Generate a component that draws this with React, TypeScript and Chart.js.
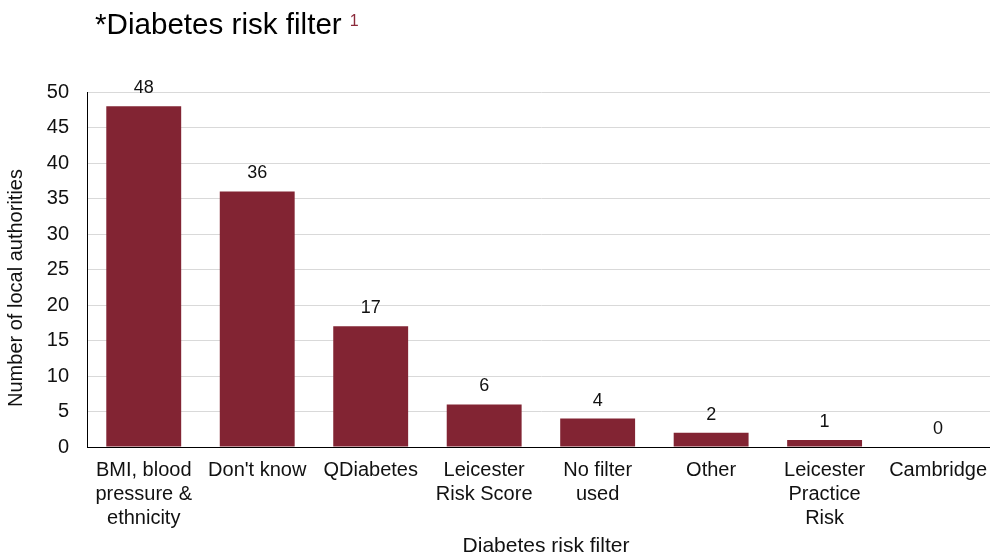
import React, { useEffect, useRef } from "react";
import { Chart, registerables } from "chart.js";

Chart.register(...registerables);

const categories: (string | string[])[] = [
  ["BMI, blood", "pressure &", "ethnicity"],
  "Don't know",
  "QDiabetes",
  ["Leicester", "Risk Score"],
  ["No filter", "used"],
  "Other",
  ["Leicester", "Practice", "Risk"],
  "Cambridge",
];
const values: number[] = [48, 36, 17, 6, 4, 2, 1, 0];
const yTicks: number[] = [0, 5, 10, 15, 20, 25, 30, 35, 40, 45, 50];

const titleText = "*Diabetes risk filter";
const titleSup = "1";
const xTitle = "Diabetes risk filter";
const yTitle = "Number of local authorities";

const BAR = "#822433";
const FONT = "'Liberation Sans', Arial, sans-serif";

const overlay = {
  id: "overlay",
  afterDraw(chart: any) {
    const ctx = chart.ctx;
    ctx.save();
    ctx.fillStyle = "#000";
    ctx.textBaseline = "alphabetic";
    ctx.textAlign = "left";
    ctx.font = `29.6px ${FONT}`;
    ctx.fillText(titleText, 95, 34);
    const w = ctx.measureText(titleText).width;
    ctx.fillStyle = "#8b2a3a";
    ctx.font = `16px ${FONT}`;
    ctx.fillText(titleSup, 95 + w + 8, 26);

    // axis titles
    ctx.fillStyle = "#111";
    ctx.textAlign = "center";
    ctx.textBaseline = "middle";
    ctx.font = `21px ${FONT}`;
    ctx.fillText(xTitle, 546, 546);
    ctx.save();
    ctx.translate(16, 288);
    ctx.rotate(-Math.PI / 2);
    ctx.font = `20px ${FONT}`;
    ctx.fillText(yTitle, 0, 0);
    ctx.restore();

    // data labels
    const meta = chart.getDatasetMeta(0);
    ctx.fillStyle = "#111";
    ctx.font = `18px ${FONT}`;
    meta.data.forEach((el: any, i: number) => {
      ctx.fillText(String(values[i]), el.x, el.y - 18);
    });
    ctx.restore();
  },
};

export default function App() {
  const ref = useRef<HTMLCanvasElement>(null);
  useEffect(() => {
    const chart = new Chart(ref.current!, {
      type: "bar",
      data: {
        labels: categories,
        datasets: [
          {
            data: values,
            backgroundColor: BAR,
            categoryPercentage: 0.66,
            barPercentage: 1,
          },
        ],
      },
      options: {
        animation: false,
        responsive: false,
        maintainAspectRatio: false,
        layout: { padding: { top: 92, right: 0, left: 0, bottom: 0 } },
        plugins: { legend: { display: false }, tooltip: { enabled: false } },
        scales: {
          x: {
            afterFit: (s: any) => {
              s.height = 110;
            },
            grid: { display: false, drawTicks: false },
            border: { color: "#000", width: 1 },
            ticks: {
              color: "#111",
              font: { family: FONT, size: 20, lineHeight: 1.2 },
              padding: 11,
              maxRotation: 0,
              autoSkip: false,
            },
          },
          y: {
            min: 0,
            max: 50,
            afterBuildTicks: (s: any) => {
              s.ticks = yTicks.map((v) => ({ value: v }));
            },
            afterFit: (s: any) => {
              s.width = 87;
            },
            grid: { color: "#d9d9d9", drawTicks: false },
            border: { color: "#000", width: 1 },
            ticks: {
              color: "#111",
              font: { family: FONT, size: 20 },
              padding: 18,
            },
          },
        },
      },
      plugins: [overlay],
    });
    return () => chart.destroy();
  }, []);
  return (
    <div
      style={{
        position: "fixed",
        left: 0,
        top: 0,
        width: 990,
        height: 557,
        overflow: "hidden",
        background: "#fff",
      }}
    >
      <canvas ref={ref} width={998} height={557} style={{ width: 998, height: 557, display: "block" }} />
    </div>
  );
}
